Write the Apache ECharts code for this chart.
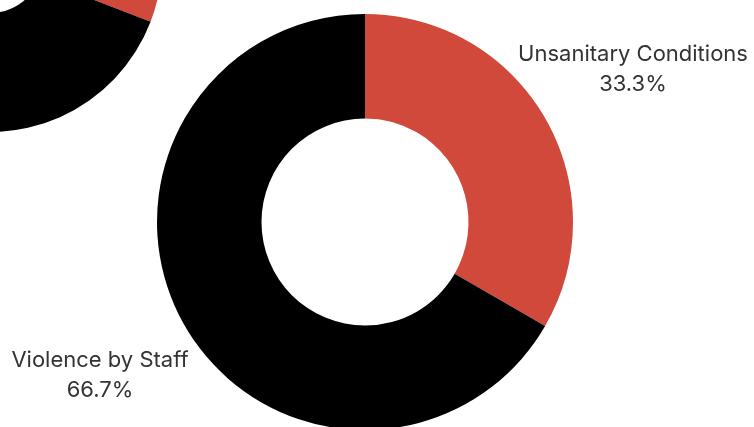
<!DOCTYPE html>
<html>
<head>
<meta charset="utf-8">
<script src="https://cdn.jsdelivr.net/npm/echarts@6/dist/echarts.min.js"></script>
<style>
  html, body { margin: 0; padding: 0; background: #fff; }
  #chart { width: 754px; height: 427px; }
</style>
</head>
<body>
<div id="chart"></div>
<script>
// main donut
const categories = ['Unsanitary Conditions', 'Violence by Staff'];
const values = [1, 2];
const colors = ['#d0493b', '#000000'];

// neighbouring donut, cut off in the top-left corner (only its edge is visible)
const cornerCategories = ['Red share', 'Black share'];
const cornerValues = [1, 2];

// where each label block is centred
const labelAnchors = [[633, 69], [100, 375]];

const chart = echarts.init(document.getElementById('chart'));

const option = {
  animation: false,
  backgroundColor: '#ffffff',
  series: [
    {
      type: 'pie',
      center: [-10, -40],
      radius: [53, 172],
      startAngle: 99,
      silent: true,
      label: { show: false },
      labelLine: { show: false },
      data: cornerValues.map((v, i) => ({
        name: cornerCategories[i],
        value: v,
        itemStyle: { color: colors[i] },
      })),
    },
    {
      type: 'pie',
      center: [365, 222],
      radius: [103.5, 208],
      startAngle: 90,
      percentPrecision: 1,
      silent: true,
      avoidLabelOverlap: false,
      itemStyle: { borderWidth: 0 },
      label: {
        show: true,
        position: 'outside',
        formatter: '{b}\n{d}%',
        fontFamily: 'Inter, sans-serif',
        fontSize: 22,
        lineHeight: 30,
        color: '#333333',
        align: 'center',
        width: 300,
        overflow: 'none',
      },
      labelLine: { show: false },
      labelLayout: (params) => {
        const a = labelAnchors[params.dataIndex];
        return { x: a[0], y: a[1], align: 'center', verticalAlign: 'middle' };
      },
      data: values.map((v, i) => ({
        name: categories[i],
        value: v,
        itemStyle: { color: colors[i] },
      })),
    },
  ],
};

chart.setOption(option);
</script>
</body>
</html>
